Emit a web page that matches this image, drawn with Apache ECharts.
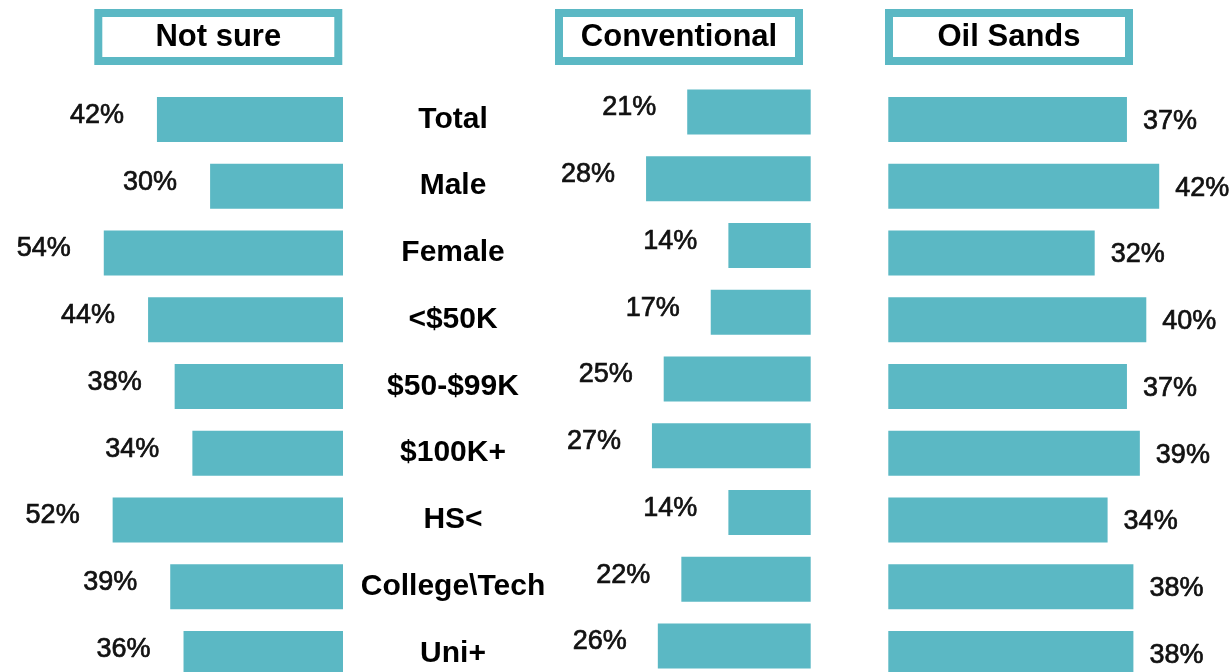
<!DOCTYPE html>
<html>
<head>
<meta charset="utf-8">
<script src="https://cdn.jsdelivr.net/npm/echarts@6/dist/echarts.min.js"></script>
<style>
html,body{margin:0;padding:0;background:#fff;overflow:hidden;}
#chart{width:1231px;height:700px;}
</style>
</head>
<body>
<div id="chart"></div>
<script>
var categories = ['Total', 'Male', 'Female', '<$50K', '$50-$99K', '$100K+', 'HS<', 'College\\Tech', 'Uni+'];
var panelTitles = ['Not sure', 'Conventional', 'Oil Sands'];
var notSure = [42, 30, 54, 44, 38, 34, 52, 39, 36];
var conventional = [21, 28, 14, 17, 25, 27, 14, 22, 26];
var oilSands = [37, 42, 32, 40, 37, 39, 34, 38, 38];

var FONT = "'Liberation Sans', Arial, sans-serif";
var TEAL = '#5bb8c4';
var ROW = 66.75;
var H = ROW * categories.length;

var chart = echarts.init(document.getElementById('chart'), null, {renderer: 'canvas'});

function titleBox(x, text) {
  return {
    type: 'group',
    children: [
      {type: 'rect', shape: {x: x, y: 13, width: 240, height: 48}, style: {fill: '#fff', stroke: TEAL, lineWidth: 8}},
      {type: 'text', x: x + 120, y: 37, style: {text: text, font: 'bold 31px ' + FONT, fill: '#000', align: 'center', verticalAlign: 'middle'}}
    ]
  };
}

var labelStyle = {show: true, formatter: '{c}%', fontFamily: FONT, fontSize: 27, color: '#111',
  textBorderColor: '#111', textBorderWidth: 0.7};

var option = {
  animation: false,
  backgroundColor: '#fff',
  graphic: [titleBox(98.3, panelTitles[0]), titleBox(559, panelTitles[1]), titleBox(889, panelTitles[2])],
  grid: [
    {left: 343 - 4.43 * 60, width: 4.43 * 60, top: 86.1, height: H},
    {left: 810.7 - 5.88 * 40, width: 5.88 * 40, top: 78.6, height: H},
    {left: 888.3, width: 6.45 * 50, top: 86.1, height: H}
  ],
  xAxis: [
    {gridIndex: 0, type: 'value', min: 0, max: 60, inverse: true, show: false},
    {gridIndex: 1, type: 'value', min: 0, max: 40, inverse: true, show: false},
    {gridIndex: 2, type: 'value', min: 0, max: 50, show: false}
  ],
  yAxis: [
    {gridIndex: 0, type: 'category', data: categories, inverse: true, position: 'right',
      axisLine: {show: false}, axisTick: {show: false}, splitLine: {show: false},
      axisLabel: {show: true, margin: 110, align: 'center', fontFamily: FONT, fontSize: 30, fontWeight: 'bold', color: '#000', padding: [0, 0, 3, 0]}},
    {gridIndex: 1, type: 'category', data: categories, inverse: true, show: false},
    {gridIndex: 2, type: 'category', data: categories, inverse: true, show: false}
  ],
  series: [
    {type: 'bar', xAxisIndex: 0, yAxisIndex: 0, data: notSure, barWidth: 45, itemStyle: {color: TEAL},
      label: Object.assign({}, labelStyle, {position: 'left', distance: 33, offset: [0, -4]})},
    {type: 'bar', xAxisIndex: 1, yAxisIndex: 1, data: conventional, barWidth: 45, itemStyle: {color: TEAL},
      label: Object.assign({}, labelStyle, {position: 'left', distance: 31, offset: [0, -4]})},
    {type: 'bar', xAxisIndex: 2, yAxisIndex: 2, data: oilSands, barWidth: 45, itemStyle: {color: TEAL},
      label: Object.assign({}, labelStyle, {position: 'right', distance: 16, offset: [0, 2]})}
  ]
};
chart.setOption(option);
</script>
</body>
</html>
